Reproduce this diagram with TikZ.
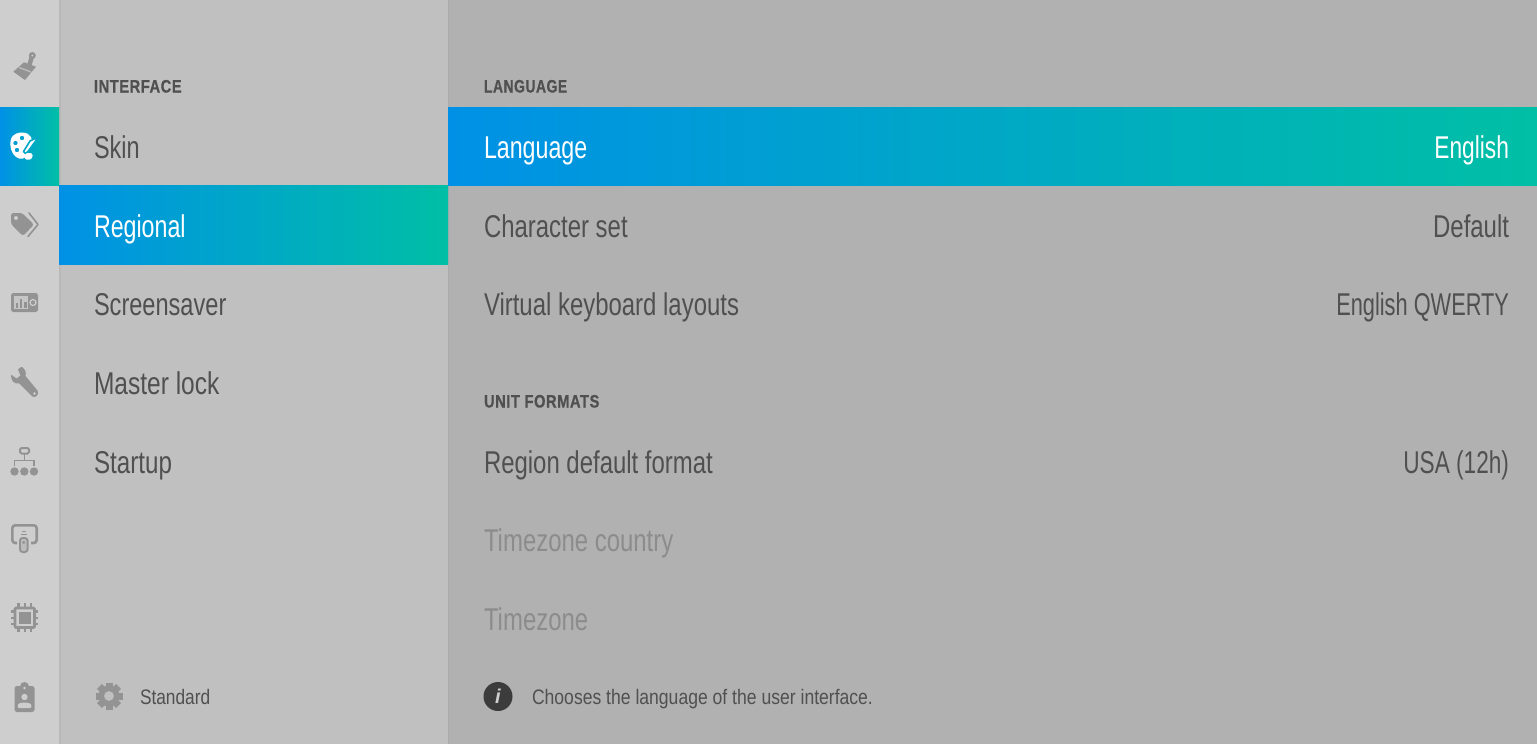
\documentclass[tikz,border=0pt]{standalone}
\usepackage{graphicx}
\usepackage{fontspec}
\setmainfont{Liberation Sans}
\newfontfamily\uifont[FakeStretch=0.76]{Liberation Sans}
\newfontfamily\hdfont[FakeStretch=0.8,LetterSpace=3,FakeBold=0.6]{Liberation Sans Bold}
\newfontfamily\smfont[FakeStretch=0.8]{Liberation Sans}
\newcommand{\sx}[2]{\scalebox{#1}[1]{#2}}
\definecolor{stripbg}{HTML}{CECECE}
\definecolor{midbg}{HTML}{C0C0C0}
\definecolor{rightbg}{HTML}{B1B1B1}
\definecolor{sepa}{HTML}{B8B8B8}
\definecolor{sepb}{HTML}{ABABAB}
\definecolor{txt}{HTML}{505050}
\definecolor{dim}{HTML}{8C8C8C}
\definecolor{ico}{HTML}{939393}
\definecolor{infoc}{HTML}{3C3C3C}
\definecolor{gradA}{HTML}{0091E6}
\definecolor{gradB}{HTML}{00BFA5}
\definecolor{gradM}{HTML}{00A8C6}
\pgfdeclarehorizontalshading{bluegreen}{100bp}{color(0bp)=(gradA); color(25bp)=(gradA); color(75bp)=(gradB); color(100bp)=(gradB)}
\tikzset{
  item/.style={anchor=base west,inner sep=0pt,outer sep=0pt,text=txt,font=\uifont\fontsize{31.5}{32}\selectfont},
  val/.style={item,anchor=base east},
  sel/.style={text=white},
  off/.style={text=dim},
  head/.style={anchor=base west,inner sep=0pt,outer sep=0pt,text=txt,font=\hdfont\fontsize{18}{18}\selectfont},
  small/.style={anchor=base west,inner sep=0pt,outer sep=0pt,text=txt,font=\smfont\fontsize{21}{21}\selectfont},
}
\begin{document}
\begin{tikzpicture}[x=1pt,y=-1pt]
\useasboundingbox (0,0) rectangle (1537,744);
% panels
\fill[stripbg] (0,0) rectangle (59,744);
\fill[midbg] (59,0) rectangle (448,744);
\fill[rightbg] (448,0) rectangle (1537,744);
\fill[sepa] (59,0) rectangle (60.5,744);
\fill[sepb] (448,0) rectangle (449.2,744);
% selected bands
\shade[shading=bluegreen] (0,107) rectangle (59,185);
\shade[shading=bluegreen] (59,185) rectangle (448,264);
\shade[shading=bluegreen] (448,107) rectangle (1537,185);
% middle column
\node[head] (hInterface) at (94,92.5) {\sx{1.02}{INTERFACE}};
\node[item] (skin) at (94,158) {\sx{.98}{Skin}};
\node[item,sel] (regional) at (94,237) {\sx{.97}{Regional}};
\node[item] (screensaver) at (94,315) {\sx{.985}{Screensaver}};
\node[item] (masterlock) at (94,394) {\sx{1.025}{Master lock}};
\node[item] (startup) at (94,473) {\sx{1.01}{Startup}};
\node[small] (standard) at (140,704.5) {\sx{1.03}{Standard}};
% right column
\node[head] (hLanguage) at (484,92.5) {\sx{.965}{LANGUAGE}};
\node[item,sel] (language) at (484,158) {\sx{.97}{Language}};
\node[val,sel] (english) at (1509,158) {\sx{.95}{English}};
\node[item] (charset) at (484,237) {Character set};
\node[val] (default) at (1509,237) {Default};
\node[item] (vkl) at (484,315) {Virtual keyboard layouts};
\node[val] (qwerty) at (1509,315) {\sx{.91}{English QWERTY}};
\node[head] (hUnit) at (484,407.5) {\sx{1.02}{UNIT FORMATS}};
\node[item] (region) at (484,473) {Region default format};
\node[val] (usa) at (1509,473) {\sx{.945}{USA (12h)}};
\node[item,off] (tzc) at (484,551) {Timezone country};
\node[item,off] (tz) at (484,630) {Timezone};
\node[small] (hint) at (532,704.5) {\sx{1.046}{Chooses the language of the user interface.}};
% info icon
\fill[infoc] (498,696.5) circle (14.5);
\node[anchor=base,inner sep=0pt,text=stripbg,font=\fontsize{20}{20}\selectfont\bfseries\itshape] (infoI) at (498,703.5) {i};
% gear
\foreach \a in {0,45,...,315}
  \fill[ico,rotate around={\a:(109,696)}] (105.5,682.5) rectangle (112.5,688);
\fill[ico,even odd rule] (109,696) circle (10.5) (109,696) circle (5);
% brush
\fill[ico,line join=round] (13.3,71.7) -- (24,62.3) -- (36,66.7) -- (25,80) -- cycle;
\draw[ico,line width=4.5pt,line cap=round] (32,56.5) -- (29,66);
\fill[ico] (32.3,55.5) circle (3.5);
\fill[stripbg] (32.3,55.5) circle (1);
\draw[stripbg!70!ico,line width=1.3pt] (19,67.5) -- (31,72);
% palette (white)
\fill[white,even odd rule] (22,132.5) .. controls (31,132.5) and (34,140) .. (31,146)
  .. controls (28,150) and (26,151) .. (26,155)
  .. controls (26,159) and (20,160) .. (16,157)
  .. controls (10,152) and (9,142) .. (12,137)
  .. controls (14,134) and (18,132.5) .. (22,132.5) -- cycle
  (22,138) circle (2.3) (15.5,143) circle (2.3) (17,150) circle (2.3);
\draw[gradM,line width=1.6pt,fill=white,line join=round] (38.5,137) -- (30,141) -- (23.5,151.5) -- (25.5,153.5) -- (28,151.5) -- cycle;
\fill[white] (24.5,157) .. controls (24.5,153.5) and (28,152) .. (30,153) .. controls (33,153) and (33.5,157) .. (31,159) .. controls (28,160.5) and (25,160) .. (24.5,157) -- cycle;
% tags
\fill[ico,rounded corners=2.5pt] (11,213) -- (22,213) -- (34,224.5) -- (23,236) -- (11,224) -- cycle;
\fill[stripbg] (16,218) circle (2);
\draw[ico,line width=1.6pt,line cap=round,line join=round] (29,213) -- (38,224.5) -- (28,236.5);
% radio
\fill[ico,rounded corners=2.5pt] (11,293) rectangle (38,312);
\fill[stripbg!85!ico] (14,296) rectangle (28,309);
\fill[ico] (15.5,303) rectangle (18,308);
\fill[ico] (19.7,299) rectangle (22.2,308);
\fill[ico] (24,302) rectangle (26.5,308);
\draw[stripbg,line width=1.2pt] (33,302.5) circle (3);
% wrench
\fill[ico,line join=round] (22,367) .. controls (25,369) and (26.5,372) .. (25.5,376) -- (37.5,390.5)
  .. controls (39.5,394) and (36,398.5) .. (32.5,396.5) -- (19.5,383.5)
  .. controls (14,384.5) and (10.5,380) .. (11,374.5) -- (16.5,378.5) -- (20.5,375.5) -- (18,369.5)
  .. controls (19,368) and (20.5,367) .. (22,367) -- cycle;
\fill[stripbg] (34.5,393.5) circle (1.3);
% network
\draw[ico,line width=2pt,rounded corners=1.5pt] (20,448) rectangle (29,453.5);
\draw[ico,line width=1.3pt] (24.3,454) -- (24.3,460);
\draw[ico,line width=1.3pt] (14.5,466) -- (14.5,460.5) -- (34,460.5) -- (34,466);
\foreach \xc in {14.5,24.3,34}
  \fill[ico] (\xc,471.5) circle (4.2);
% remote
\draw[ico,line width=2.6pt,rounded corners=3pt] (17,543) -- (12.3,543) -- (12.3,525.3) -- (36.7,525.3) -- (36.7,543) -- (31,543);
\fill[ico,rounded corners=3.5pt] (19,537) rectangle (28.5,553);
\fill[stripbg!70!ico,rounded corners=2pt] (21,539) rectangle (26.5,551);
\fill[ico] (23.7,542.5) circle (1.6);
\draw[ico,line width=1pt] (21,534) -- (26.5,534);
\draw[ico,line width=1pt] (22,531.5) -- (25.5,531.5);
% chip
\draw[ico,line width=2.6pt,rounded corners=1pt] (15,608) rectangle (34.5,627.5);
\fill[ico] (18.5,611.5) rectangle (31,624);
\foreach \t in {18.5,24.7,31}{
  \draw[ico,line width=2.2pt] (\t,603) -- (\t,608);
  \draw[ico,line width=2.2pt] (\t,627) -- (\t,632);
}
\foreach \t in {611.5,617.7,624}{
  \draw[ico,line width=2.2pt] (11,\t) -- (15,\t);
  \draw[ico,line width=2.2pt] (34,\t) -- (38,\t);
}
% badge
\fill[ico,rounded corners=2.5pt] (14.5,686) rectangle (34.5,712);
\fill[ico] (24.5,686.5) circle (4.5);
\fill[stripbg] (24.5,688) circle (1.3);
\fill[stripbg] (24.5,697) circle (3.2);
\fill[stripbg,rounded corners=1.5pt] (17.5,708) -- (17.5,705.5) .. controls (19,702) and (30,702) .. (31.5,705.5) -- (31.5,708) -- cycle;
\end{tikzpicture}
\end{document}
